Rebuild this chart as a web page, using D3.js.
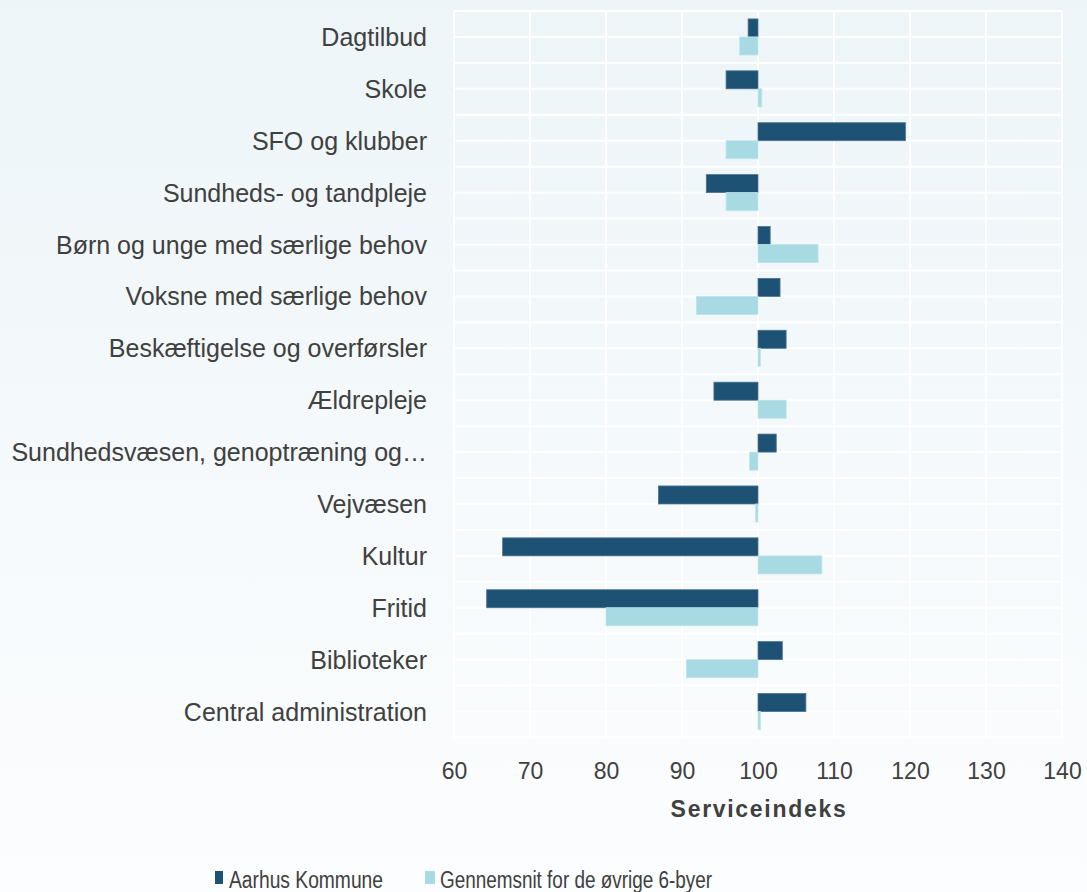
<!DOCTYPE html>
<html>
<head>
<meta charset="utf-8">
<script src="https://cdn.jsdelivr.net/npm/d3@7"></script>
<style>
  html, body { margin: 0; padding: 0; background: #ffffff; }
  svg { display: block; font-family: "Liberation Sans", Arial, Helvetica, sans-serif; }
</style>
</head>
<body>
<svg id="chart" width="1087" height="892"></svg>
<script>
const categories = [
  "Dagtilbud",
  "Skole",
  "SFO og klubber",
  "Sundheds- og tandpleje",
  "Børn og unge med særlige behov",
  "Voksne med særlige behov",
  "Beskæftigelse og overførsler",
  "Ældrepleje",
  "Sundhedsvæsen, genoptræning og…",
  "Vejvæsen",
  "Kultur",
  "Fritid",
  "Biblioteker",
  "Central administration"
];
const seriesNames = ["Aarhus Kommune", "Gennemsnit for de øvrige 6-byer"];
const aarhus = [98.7, 95.8, 119.4, 93.2, 101.6, 102.9, 103.7, 94.2, 102.4, 86.9, 66.4, 64.3, 103.2, 106.3];
const others = [97.6, 100.5, 95.8, 95.8, 107.9, 91.9, 100.3, 103.7, 98.9, 99.7, 108.4, 80.0, 90.6, 100.3];
const xTicks = [60, 70, 80, 90, 100, 110, 120, 130, 140];
const xTitle = "Serviceindeks";
const baseline = 100;

const colors = ["#1e5275", "#a8dae3"];
const textColor = "#404040";

const svg = d3.select("#chart");
const W = 1087, H = 892;

// background gradient
const defs = svg.append("defs");
const grad = defs.append("linearGradient").attr("id", "bg").attr("x1", 0).attr("y1", 0).attr("x2", 0).attr("y2", 1);
grad.append("stop").attr("offset", "0%").attr("stop-color", "#edf5f8");
grad.append("stop").attr("offset", "100%").attr("stop-color", "#fcfdfe");
svg.append("rect").attr("width", W).attr("height", H).attr("fill", "url(#bg)");

const plot = { left: 454, right: 1062, top: 11, bottom: 737.5 };

const x = d3.scaleLinear().domain([60, 140]).range([plot.left, plot.right]);
const y = d3.scaleBand().domain(categories).range([plot.top, plot.bottom]).paddingInner(0).paddingOuter(0);
const sub = d3.scaleBand().domain(seriesNames).range([0, y.bandwidth()]).paddingInner(0).paddingOuter(0.44);

// grid
const grid = svg.append("g");
const halfLines = d3.range(0, categories.length * 2 + 1).map(k => plot.top + k * y.bandwidth() / 2);
grid.selectAll("line.h").data(halfLines).join("line")
  .attr("x1", plot.left).attr("x2", plot.right)
  .attr("y1", d => d).attr("y2", d => d)
  .attr("stroke", "#ffffff").attr("stroke-width", 2);
grid.selectAll("line.v").data(xTicks).join("line")
  .attr("x1", d => x(d)).attr("x2", d => x(d))
  .attr("y1", plot.top).attr("y2", plot.bottom)
  .attr("stroke", "#ffffff").attr("stroke-width", 2);

// bars
const series = [aarhus, others];
series.forEach((vals, si) => {
  svg.append("g").selectAll("rect").data(vals).join("rect")
    .attr("x", d => x(Math.min(d, baseline)))
    .attr("width", d => Math.abs(x(d) - x(baseline)))
    .attr("y", (d, i) => y(categories[i]) + sub(seriesNames[si]))
    .attr("height", sub.bandwidth())
    .attr("fill", colors[si])
    .attr("stroke", si === 0 ? "#4a7392" : "#bde3ea")
    .attr("stroke-width", 0.8);
});

// y labels
svg.append("g").selectAll("text").data(categories).join("text")
  .attr("x", 427)
  .attr("y", d => y(d) + y.bandwidth() / 2)
  .attr("dy", "0.36em")
  .attr("text-anchor", "end")
  .attr("font-size", 25)
  .attr("fill", textColor)
  .text(d => d);

// x axis
const xAxis = d3.axisBottom(x).tickValues(xTicks).tickSize(0).tickPadding(0);
const gx = svg.append("g").attr("transform", `translate(0, ${plot.bottom})`).call(xAxis);
gx.select(".domain").remove();
gx.selectAll("text")
  .attr("y", 41)
  .attr("dy", 0)
  .attr("font-size", 23)
  .attr("font-family", "'Liberation Sans', Arial, sans-serif")
  .attr("fill", textColor);

svg.append("text")
  .attr("x", (plot.left + plot.right) / 2 + 1)
  .attr("y", 817)
  .attr("text-anchor", "middle")
  .attr("font-size", 23)
  .attr("font-weight", "bold")
  .attr("letter-spacing", 1.7)
  .attr("fill", textColor)
  .text(xTitle);

// legend
const legend = svg.append("g");
const legendItems = [
  { name: seriesNames[0], color: colors[0], sx: 215, sw: 8, tx: 229, tw: 154 },
  { name: seriesNames[1], color: colors[1], sx: 425, sw: 10, tx: 440, tw: 272 }
];
legendItems.forEach(it => {
  legend.append("rect").attr("x", it.sx).attr("y", 871).attr("width", it.sw).attr("height", 13).attr("fill", it.color);
  legend.append("text").attr("x", it.tx).attr("y", 887.5).attr("font-size", 23.5)
    .attr("textLength", it.tw).attr("lengthAdjust", "spacingAndGlyphs")
    .attr("fill", textColor).text(it.name);
});
</script>
</body>
</html>
